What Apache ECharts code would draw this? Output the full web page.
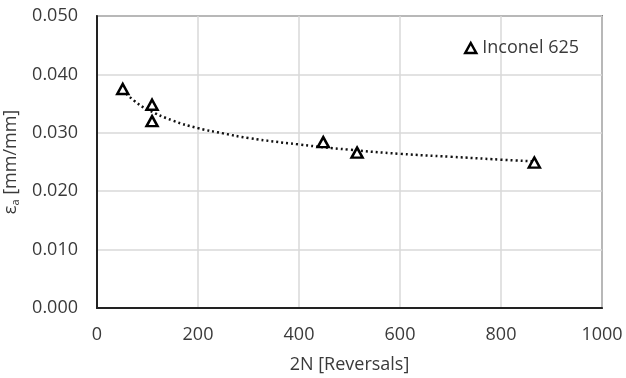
<!DOCTYPE html>
<html>
<head>
<meta charset="utf-8">
<script src="https://cdn.jsdelivr.net/npm/echarts@6/dist/echarts.min.js"></script>
<style>html,body{margin:0;padding:0;background:#fff}#c{width:626px;height:378px}</style>
</head>
<body>
<div id="c"></div>
<script>
const seriesName = 'Inconel 625';
const xValues = [51, 109, 109, 448, 515, 866];
const yValues = [0.0375, 0.0348, 0.0320, 0.0284, 0.0266, 0.0249];
const trendX = [51, 75, 100, 150, 200, 250, 300, 400, 500, 600, 700, 800, 866];
const trendY = [0.0373, 0.0354, 0.0340, 0.0321, 0.0308, 0.0299, 0.0291, 0.0280, 0.0271, 0.0264, 0.0259, 0.0254, 0.0251];
const xTicks = [0, 200, 400, 600, 800, 1000];
const yTicks = [0, 0.01, 0.02, 0.03, 0.04, 0.05];

const font = "'Open Sans', 'Liberation Sans', sans-serif";
const txt = '#3a3a3a';
const chart = echarts.init(document.getElementById('c'));
chart.setOption({
  animation: false,
  backgroundColor: '#fff',
  grid: { left: 97, right: 24, top: 16, bottom: 70, outerBoundsMode: 'none', containLabel: false,
          show: true, borderColor: '#222', borderWidth: 1.5, backgroundColor: 'transparent' },
  legend: {
    data: [seriesName],
    left: 459, top: 34,
    icon: 'triangle', itemWidth: 11, itemHeight: 10, itemGap: 6,
    itemStyle: { color: '#fff', borderColor: '#000', borderWidth: 2.5 },
    textStyle: { fontFamily: font, fontSize: 18, color: txt, padding: [0, 0, 0, 1] }
  },
  xAxis: {
    type: 'value', min: xTicks[0], max: xTicks[xTicks.length - 1], interval: 200,
    name: '2N [Reversals]', nameLocation: 'middle', nameGap: 48,
    nameTextStyle: { fontFamily: font, fontSize: 18, color: txt },
    axisLine: { show: true, lineStyle: { color: '#222', width: 2 } },
    axisTick: { show: false },
    axisLabel: { fontFamily: font, fontSize: 18, color: txt, margin: 18, formatter: v => String(v) },
    splitLine: { show: true, lineStyle: { color: '#d9d9d9', width: 1.5 } }
  },
  yAxis: {
    type: 'value', min: yTicks[0], max: yTicks[yTicks.length - 1], interval: 0.01,
    name: '{e|ε}{s|a}{e| [mm/mm]}', nameLocation: 'middle', nameGap: 73, nameRotate: 90,
    nameTextStyle: {
      fontFamily: font, color: txt,
      rich: {
        e: { fontFamily: font, fontSize: 18, color: txt },
        s: { fontFamily: font, fontSize: 11, color: txt, verticalAlign: 'bottom', padding: [9, 0, 0, 0] }
      }
    },
    axisLine: { show: true, lineStyle: { color: '#222', width: 2 } },
    axisTick: { show: false },
    axisLabel: { fontFamily: font, fontSize: 18, color: txt, margin: 19, formatter: v => v.toFixed(3) },
    splitLine: { show: true, lineStyle: { color: '#d9d9d9', width: 1.5 } }
  },
  series: [
    {
      name: 'trend', type: 'line', smooth: true, symbol: 'none', silent: true,
      data: trendX.map((x, i) => [x, trendY[i]]),
      lineStyle: { color: '#111', width: 2.5, type: [2, 3] },
      z: 2
    },
    {
      name: seriesName, type: 'scatter', symbol: 'triangle', symbolSize: [11, 10],
      data: xValues.map((x, i) => [x, yValues[i]]),
      itemStyle: { color: '#fff', borderColor: '#000', borderWidth: 2.5, opacity: 1 },
      z: 3
    }
  ]
});
</script>
</body>
</html>
